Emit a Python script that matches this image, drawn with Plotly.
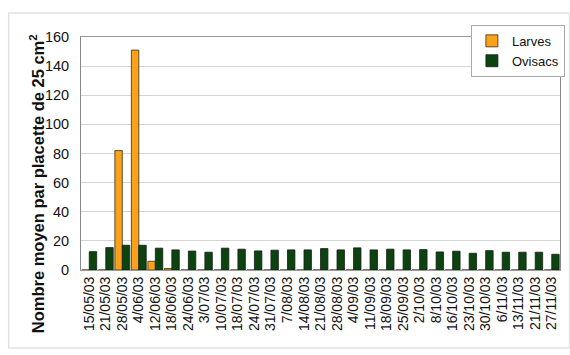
import plotly.graph_objects as go

dates = ["15/05/03", "21/05/03", "28/05/03", "4/06/03", "12/06/03", "18/06/03",
         "24/06/03", "3/07/03", "10/07/03", "18/07/03", "24/07/03", "31/07/03",
         "7/08/03", "14/08/03", "21/08/03", "28/08/03", "4/09/03", "11/09/03",
         "18/09/03", "25/09/03", "2/10/03", "8/10/03", "16/10/03", "23/10/03",
         "30/10/03", "6/11/03", "13/11/03", "21/11/03", "27/11/03"]

larves = [0, 0, 82, 151, 6, 1, 0, 0, 0, 0, 0, 0, 0, 0, 0, 0, 0, 0, 0, 0,
          0, 0, 0, 0, 0, 0, 0, 0, 0]

ovisacs = [12.6, 15.4, 17, 17, 15, 13.8, 13, 12.2, 15, 14.3, 13.1, 13.6,
           13.8, 13.8, 14.7, 13.8, 15.2, 13.8, 14.3, 13.8, 14, 12.4, 12.9,
           11.5, 13.3, 12.2, 12.2, 12.2, 10.8]

y_ticks = [0, 20, 40, 60, 80, 100, 120, 140, 160]

fig = go.Figure()
fig.add_trace(go.Bar(x=dates, y=larves, name="Larves",
                     marker=dict(color="#F9A21A", line=dict(color="#3a2a10", width=0.8))))
fig.add_trace(go.Bar(x=dates, y=ovisacs, name="Ovisacs",
                     marker=dict(color="#0b440f", line=dict(color="#1a1a1a", width=0.8))))

fig.update_layout(
    width=570, height=355,
    margin=dict(l=81, r=5, t=37, b=85),
    paper_bgcolor="white", plot_bgcolor="white",
    barmode="group", bargap=0.1, bargroupgap=0,
    font=dict(family="Arial, Liberation Sans, sans-serif", color="#111"),
    showlegend=True,
    legend=dict(x=0.814, y=1.052, xanchor="left", yanchor="top",
                bgcolor="white", bordercolor="#aaaaaa", borderwidth=1,
                font=dict(size=13, color="#111"), itemwidth=30,
                tracegroupgap=0),
    xaxis=dict(type="category", tickmode="array", tickvals=dates, ticktext=dates,
               tickangle=-90, tickfont=dict(size=14, color="#111"),
               showline=True, linecolor="#999999", linewidth=1, mirror=True,
               showgrid=False, ticks=""),
    yaxis=dict(range=[0, 160], tickmode="array", tickvals=y_ticks,
               tickfont=dict(size=14.5, color="#111"), ticklabelstandoff=8,
               showgrid=True, gridcolor="#d4d4d4", gridwidth=1,
               showline=True, linecolor="#888888", linewidth=1, mirror=True,
               zeroline=False, ticks=""),
    shapes=[dict(type="rect", xref="paper", yref="paper",
                 x0=-0.151, x1=1.02, y0=-0.335, y1=1.103,
                 line=dict(color="#e2e2e2", width=1.5), layer="below")],
    annotations=[dict(text="<b>Nombre moyen par placette de 25 cm<sup>2</sup></b>",
                      xref="paper", yref="paper", x=-0.093, y=0.37,
                      xanchor="center", yanchor="middle", textangle=-90,
                      showarrow=False,
                      font=dict(size=16.5, color="#111", family="Arial, Liberation Sans, sans-serif"))],
)

fig.write_html("out.html")
